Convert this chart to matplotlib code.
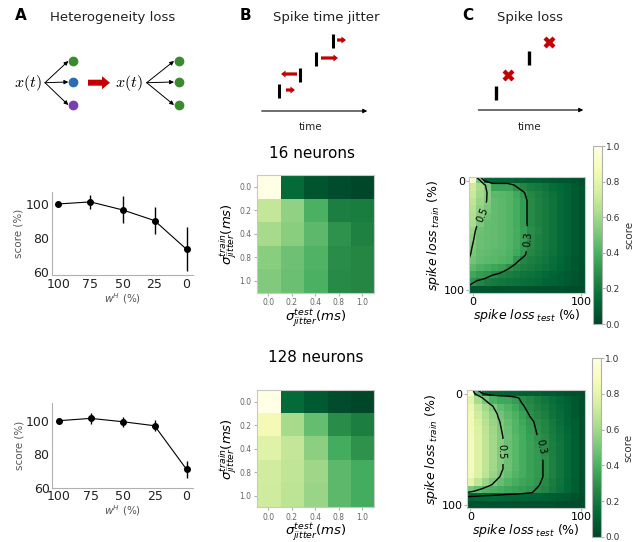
import numpy as np
import matplotlib
matplotlib.use('Agg')
import matplotlib.pyplot as plt

# ---- A: score vs w^H ----
w_labels = ['100', '75', '50', '25', '0']
score16 = [100.2, 101.4, 96.7, 90.4, 73.5]
err16 = [0.6, 3.9, 8.0, 7.8, 12.9]
score128 = [100.0, 101.4, 99.4, 97.0, 70.9]
err128 = [0.8, 3.4, 3.0, 3.3, 5.3]

# ---- B: spike time jitter ----
jitter_labels = ['0.0', '0.2', '0.4', '0.8', '1.0']
jitter16 = [[1.00, 0.14, 0.06, 0.03, 0.01],
            [0.69, 0.56, 0.40, 0.23, 0.22],
            [0.61, 0.54, 0.44, 0.30, 0.24],
            [0.54, 0.48, 0.41, 0.28, 0.26],
            [0.52, 0.47, 0.40, 0.27, 0.26]]
jitter128 = [[1.00, 0.14, 0.08, 0.03, 0.01],
             [0.86, 0.61, 0.46, 0.28, 0.23],
             [0.78, 0.69, 0.55, 0.38, 0.30],
             [0.73, 0.68, 0.59, 0.44, 0.38],
             [0.72, 0.67, 0.58, 0.44, 0.38]]

# ---- C: spike loss (train rows x test columns, 0..100 %) ----
loss_labels = ['0', '100']
loss16 = [
    [0.95, 0.50, 0.12, 0.12, 0.11, 0.11, 0.10, 0.10, 0.09, 0.09, 0.08, 0.07, 0.06, 0.06, 0.05, 0.04],
    [0.72, 0.62, 0.52, 0.35, 0.35, 0.35, 0.29, 0.25, 0.22, 0.20, 0.18, 0.15, 0.13, 0.11, 0.08, 0.05],
    [0.70, 0.60, 0.53, 0.44, 0.43, 0.42, 0.37, 0.31, 0.26, 0.23, 0.20, 0.17, 0.14, 0.11, 0.08, 0.05],
    [0.68, 0.58, 0.52, 0.45, 0.44, 0.42, 0.38, 0.33, 0.27, 0.24, 0.21, 0.18, 0.14, 0.11, 0.08, 0.05],
    [0.66, 0.56, 0.505, 0.45, 0.44, 0.42, 0.38, 0.33, 0.27, 0.24, 0.21, 0.18, 0.14, 0.11, 0.08, 0.05],
    [0.64, 0.55, 0.48, 0.45, 0.44, 0.42, 0.38, 0.33, 0.27, 0.24, 0.21, 0.18, 0.14, 0.11, 0.08, 0.05],
    [0.62, 0.51, 0.46, 0.45, 0.44, 0.42, 0.38, 0.33, 0.27, 0.24, 0.21, 0.18, 0.14, 0.11, 0.08, 0.05],
    [0.58, 0.48, 0.46, 0.45, 0.44, 0.42, 0.39, 0.34, 0.28, 0.25, 0.21, 0.18, 0.14, 0.11, 0.08, 0.05],
    [0.55, 0.47, 0.46, 0.45, 0.44, 0.42, 0.39, 0.34, 0.27, 0.24, 0.21, 0.18, 0.14, 0.11, 0.08, 0.05],
    [0.52, 0.47, 0.46, 0.45, 0.44, 0.42, 0.38, 0.33, 0.27, 0.24, 0.21, 0.18, 0.14, 0.11, 0.08, 0.05],
    [0.51, 0.46, 0.45, 0.44, 0.43, 0.41, 0.37, 0.32, 0.26, 0.23, 0.20, 0.17, 0.14, 0.11, 0.08, 0.05],
    [0.49, 0.45, 0.44, 0.43, 0.42, 0.40, 0.31, 0.26, 0.23, 0.21, 0.19, 0.16, 0.13, 0.10, 0.07, 0.05],
    [0.44, 0.40, 0.38, 0.36, 0.34, 0.29, 0.26, 0.23, 0.21, 0.19, 0.17, 0.15, 0.12, 0.10, 0.07, 0.04],
    [0.36, 0.33, 0.31, 0.27, 0.24, 0.22, 0.20, 0.18, 0.17, 0.16, 0.14, 0.12, 0.10, 0.08, 0.06, 0.04],
    [0.30, 0.25, 0.22, 0.20, 0.19, 0.18, 0.17, 0.16, 0.15, 0.14, 0.12, 0.11, 0.09, 0.08, 0.06, 0.04],
    [0.06, 0.06, 0.06, 0.05, 0.05, 0.05, 0.05, 0.05, 0.05, 0.04, 0.04, 0.04, 0.04, 0.03, 0.03, 0.03],
]
loss128 = [
    [0.92, 0.40, 0.14, 0.12, 0.12, 0.11, 0.11, 0.10, 0.10, 0.09, 0.08, 0.07, 0.06, 0.05, 0.04, 0.03],
    [0.80, 0.62, 0.50, 0.40, 0.37, 0.36, 0.33, 0.28, 0.25, 0.22, 0.19, 0.16, 0.13, 0.10, 0.07, 0.04],
    [0.84, 0.70, 0.60, 0.52, 0.45, 0.41, 0.37, 0.31, 0.27, 0.24, 0.21, 0.17, 0.14, 0.11, 0.07, 0.04],
    [0.85, 0.73, 0.64, 0.56, 0.49, 0.44, 0.40, 0.35, 0.29, 0.26, 0.23, 0.18, 0.15, 0.11, 0.08, 0.04],
    [0.86, 0.75, 0.66, 0.58, 0.51, 0.46, 0.42, 0.37, 0.32, 0.28, 0.25, 0.20, 0.16, 0.12, 0.09, 0.04],
    [0.86, 0.76, 0.67, 0.59, 0.52, 0.47, 0.42, 0.38, 0.33, 0.29, 0.26, 0.21, 0.17, 0.13, 0.09, 0.04],
    [0.87, 0.77, 0.68, 0.60, 0.53, 0.48, 0.43, 0.39, 0.34, 0.30, 0.27, 0.22, 0.18, 0.14, 0.10, 0.04],
    [0.87, 0.77, 0.68, 0.60, 0.53, 0.47, 0.43, 0.39, 0.35, 0.31, 0.28, 0.23, 0.19, 0.14, 0.10, 0.04],
    [0.87, 0.77, 0.68, 0.60, 0.52, 0.47, 0.43, 0.39, 0.35, 0.32, 0.28, 0.23, 0.19, 0.14, 0.10, 0.04],
    [0.87, 0.77, 0.68, 0.60, 0.53, 0.48, 0.43, 0.39, 0.35, 0.32, 0.29, 0.24, 0.19, 0.14, 0.10, 0.04],
    [0.87, 0.77, 0.68, 0.60, 0.53, 0.48, 0.43, 0.39, 0.35, 0.32, 0.29, 0.24, 0.19, 0.14, 0.10, 0.04],
    [0.86, 0.76, 0.67, 0.58, 0.51, 0.46, 0.42, 0.39, 0.35, 0.32, 0.29, 0.24, 0.19, 0.14, 0.10, 0.04],
    [0.80, 0.68, 0.58, 0.51, 0.46, 0.42, 0.39, 0.36, 0.34, 0.31, 0.27, 0.22, 0.18, 0.13, 0.09, 0.04],
    [0.50, 0.46, 0.42, 0.40, 0.38, 0.36, 0.35, 0.33, 0.31, 0.28, 0.25, 0.21, 0.17, 0.13, 0.09, 0.04],
    [0.12, 0.13, 0.13, 0.13, 0.13, 0.12, 0.12, 0.12, 0.11, 0.11, 0.10, 0.09, 0.08, 0.07, 0.05, 0.03],
    [0.05, 0.05, 0.05, 0.05, 0.05, 0.05, 0.04, 0.04, 0.04, 0.04, 0.04, 0.04, 0.03, 0.03, 0.03, 0.03],
]

# ---- schematic elements (pixel coords of the figure) ----
het_dots_y = [61, 82, 105]
het_colors = ['#3b8a2f', '#2a6db5', '#7a3db2']
jit_spike_x = [279.3, 300, 316, 332.7]
jit_spike_y = [91, 75, 59, 41]
jit_shift_from = [286, 297, 321, 337]
jit_shift_to = [295, 281, 338, 346]
loss_spike_x = [496, 529.3]
loss_spike_y = [93, 58]
lost_x = [507.7, 549.3]
lost_y = [75, 41.7]

RED = '#c40000'
GRAY = '#b0b0b0'
W, H = 634, 542

fig = plt.figure(figsize=(6.34, 5.42), dpi=100)


def box(x0, y0, x1, y1):
    # пиксели -> доли фигуры
    return [x0 / W, 1 - y1 / H, (x1 - x0) / W, (y1 - y0) / H]


# ---- overlay for schematics and titles ----
ov = fig.add_axes([0, 0, 1, 1])
ov.set_xlim(0, W)
ov.set_ylim(H, 0)
ov.axis('off')

for x, letter in [(20.7, 'A'), (245, 'B'), (467.7, 'C')]:
    ov.text(x, 20.5, letter, fontsize=11, fontweight='bold', ha='center', va='baseline')
ov.text(113, 20.5, 'Heterogeneity loss', fontsize=9.5, ha='center', va='baseline', color='#222222')
ov.text(326, 20.5, 'Spike time jitter', fontsize=9.5, ha='center', va='baseline', color='#222222')
ov.text(530, 20.5, 'Spike loss', fontsize=9.5, ha='center', va='baseline', color='#222222')

ov.text(311.7, 158.3, '16 neurons', fontsize=11, ha='center', va='baseline')
ov.text(316, 361.7, '128 neurons', fontsize=11, ha='center', va='baseline')

# A schematic
for x0, x1, cols in [(45, 73.3, het_colors), (146.7, 179, [het_colors[0]] * 3)]:
    ov.text(x0 - 17.5, 83, r'$x(t)$', fontsize=11.5, ha='center', va='center', math_fontfamily='cm')
    for yy, c in zip(het_dots_y, cols):
        ov.annotate('', xy=(x1 - 5, yy), xytext=(x0, 82.7),
                    arrowprops=dict(arrowstyle='-|>', color='k', lw=0.7, mutation_scale=6,
                                    shrinkA=0, shrinkB=0))
        ov.plot(x1, yy, 'o', color=c, ms=6)
ov.arrow(88, 82.7, 22, 0, width=6, head_width=13, head_length=8,
         length_includes_head=True, fc=RED, ec='none')

# B schematic
for x, y in zip(jit_spike_x, jit_spike_y):
    ov.plot([x, x], [y - 7, y + 7], color='k', lw=2.2, solid_capstyle='butt')
for x0, x1, y in zip(jit_shift_from, jit_shift_to, jit_spike_y):
    ov.arrow(x0, y - 1, x1 - x0, 0, width=3.2, head_width=7, head_length=4.5,
             length_includes_head=True, fc=RED, ec='none')
ov.annotate('', xy=(367.3, 111), xytext=(261.7, 111),
            arrowprops=dict(arrowstyle='-|>', color='k', lw=0.8, mutation_scale=6, shrinkA=0, shrinkB=0))
ov.text(310.7, 126.7, 'time', fontsize=7.5, ha='center', va='center', color='#222222')

# C schematic
for x, y in zip(loss_spike_x, loss_spike_y):
    ov.plot([x, x], [y - 7, y + 7], color='k', lw=2.4, solid_capstyle='butt')
ov.plot(lost_x, lost_y, 'X', color=RED, ms=8, mec='none', ls='none')
ov.annotate('', xy=(583.3, 110), xytext=(478.3, 110),
            arrowprops=dict(arrowstyle='-|>', color='k', lw=0.8, mutation_scale=6, shrinkA=0, shrinkB=0))
ov.text(529, 126.7, 'time', fontsize=7.5, ha='center', va='center', color='#222222')


# ---- A line plots ----
def line_panel(rect, score, err, ylim):
    ax = fig.add_axes(rect)
    x = np.arange(len(score))
    ax.errorbar(x, score, yerr=err, fmt='-o', color='k', ms=4, lw=0.8, elinewidth=1, capsize=0)
    ax.set_xticks(x, w_labels)
    ax.set_yticks([60, 80, 100])
    ax.set_xlim(-0.2, 4.2)
    ax.set_ylim(*ylim)
    for s in ['top', 'right']:
        ax.spines[s].set_visible(False)
    for s in ['left', 'bottom']:
        ax.spines[s].set_color(GRAY)
    ax.tick_params(labelsize=9, length=0, pad=2, labelcolor='#222222')
    ax.set_xlabel(r'$w^H$ (%)', fontsize=7.5, color='#555555', labelpad=0)
    ax.set_ylabel('score (%)', fontsize=7.5, color='#555555', labelpad=1)


line_panel(box(52, 191.7, 193, 275), score16, err16, (58.4, 107.4))
line_panel(box(52.3, 403.3, 193, 487.7), score128, err128, (60, 110.4))


# ---- B heatmaps ----
def jitter_panel(rect, data):
    ax = fig.add_axes(rect)
    ax.imshow(np.array(data), cmap='YlGn_r', vmin=0, vmax=1, aspect='auto')
    ax.set_xticks(range(5), jitter_labels)
    ax.set_yticks(range(5), jitter_labels)
    ax.tick_params(labelsize=5.5, labelcolor='#666666', length=2, color=GRAY, pad=2)
    for s in ax.spines.values():
        s.set_color('#c8c8c8')
    ax.set_xlabel(r'$\sigma^{test}_{jitter}(ms)$', fontsize=9.5, labelpad=0)
    ax.set_ylabel(r'$\sigma^{train}_{jitter}(ms)$', fontsize=9.5, labelpad=0)


jitter_panel(box(256.7, 175, 374, 292.7), jitter16)
jitter_panel(box(256.7, 390, 374, 507.3), jitter128)


# ---- C heatmaps ----
def loss_panel(rect, cbar_rect, data, lab5, lab3):
    ax = fig.add_axes(rect)
    arr = np.array(data)
    im = ax.imshow(arr, cmap='YlGn_r', vmin=0, vmax=1, aspect='auto')
    grid = np.linspace(-0.5, 15.5, arr.shape[0])
    cs = ax.contour(grid, grid, arr, levels=[0.3, 0.5], colors='k', linewidths=1.0)
    ax.clabel(cs, fmt='%.1f', fontsize=7, inline=True, manual=[lab3, lab5])
    ax.set_xlim(-0.5, 15.5)
    ax.set_ylim(15.5, -0.5)
    ax.set_xticks([0, 15], loss_labels)
    ax.set_yticks([0, 15], loss_labels)
    ax.tick_params(labelsize=8, length=2, color=GRAY, pad=1)
    for s in ax.spines.values():
        s.set_color('#c8c8c8')
    ax.set_xlabel(r'$spike\ loss_{\ test}$ (%)', fontsize=9, labelpad=0)
    ax.set_ylabel(r'$spike\ loss_{\ train}$ (%)', fontsize=9, labelpad=1)
    cax = fig.add_axes(cbar_rect)
    cb = fig.colorbar(im, cax=cax, ticks=[0, 0.2, 0.4, 0.6, 0.8, 1.0], format='%.1f')
    cb.outline.set_edgecolor(GRAY)
    cb.ax.tick_params(labelsize=6.5, length=2, color=GRAY, pad=1, labelcolor='#333333')
    cb.set_label('score', fontsize=7.5, color='#333333', labelpad=3)


loss_panel(box(469, 177.3, 585, 293.3), box(592.7, 146, 601.7, 324), loss16,
           (1.5, 4.7), (7.9, 8.0))
loss_panel(box(466.7, 390, 585, 508.3), box(592, 358, 601, 537), loss128,
           (4.0, 7.8), (9.7, 7.2))

fig.savefig('out.png', dpi=100)
